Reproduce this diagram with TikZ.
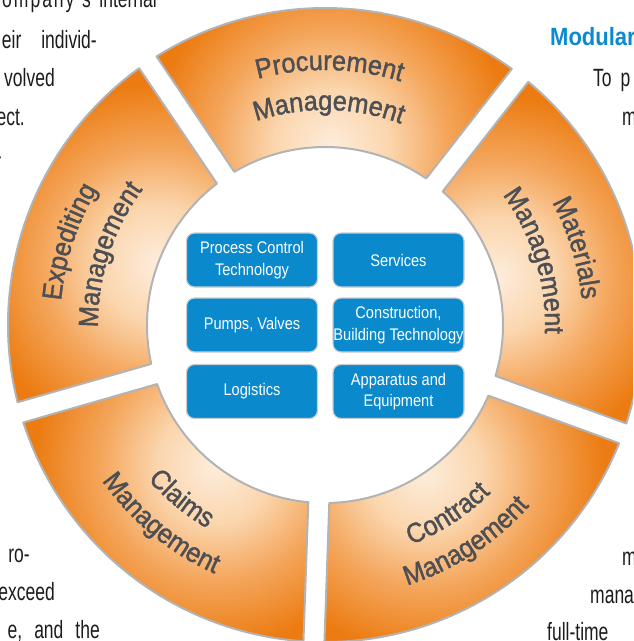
\documentclass[tikz,border=0pt]{standalone}
\usepackage{fontspec}
\setmainfont{Liberation Sans}
\newfontfamily\bodyfont[FakeStretch=0.7]{Liberation Sans}
\newfontfamily\headfont[FakeStretch=0.88]{Liberation Sans}
\newfontfamily\boxfont[FakeStretch=0.87]{Liberation Sans}
\newfontfamily\segfont[FakeStretch=0.92,FakeBold=1.4]{Liberation Sans}
\usetikzlibrary{decorations.text}

\definecolor{segin}{HTML}{FDEDDC}
\definecolor{segmida}{HTML}{FBD6AE}
\definecolor{segmidb}{HTML}{F4A65C}
\definecolor{segout}{HTML}{EC7C12}
\definecolor{segline}{HTML}{B3B3B3}
\definecolor{boxblue}{HTML}{0A8ACC}
\definecolor{boxline}{HTML}{C9CDD2}
\definecolor{segtext}{HTML}{4D4F53}
\definecolor{bodytext}{HTML}{1E1B1C}
\definecolor{headblue}{HTML}{0B8AD0}

% gradient reaches full orange at half the circle radius
\pgfdeclareradialshading{segshade}{\pgfpoint{0bp}{0bp}}{color(0bp)=(segin); color(4bp)=(segmida); color(8bp)=(segmidb); color(12.5bp)=(segout); color(50bp)=(segout)}

\tikzset{
  segborder/.style={draw=segline, line width=2pt, line join=round},
  bluebox/.style={draw=boxline, line width=1.2pt, fill=boxblue, rounded corners=8pt,
    minimum width=131pt, minimum height=54pt, inner sep=0pt, align=center, text=white,
    font=\boxfont\fontsize{16.8}{21.5}\selectfont},
  bodytxt/.style={inner sep=0pt, text=bodytext, font=\bodyfont\fontsize{25}{30}\selectfont},
  headtxt/.style={inner sep=0pt, text=headblue, font=\headfont\bfseries\fontsize{25}{30}\selectfont},
}

% ring segment between two gap angles
\newcommand\ringseg[2]{%
  \pgfmathsetmacro\segsa{#1+asin(10.5/317)}%
  \pgfmathsetmacro\segea{#2-asin(10.5/317)}%
  \pgfmathsetmacro\segsb{#2-asin(10.5/178)}%
  \pgfmathsetmacro\segeb{#1+asin(10.5/178)}%
  \pgfmathsetmacro\segmid{(#1+#2)/2}%
  \begin{scope}
    \clip (\segsa:317) arc[start angle=\segsa, end angle=\segea, radius=317]
      -- (\segsb:178) arc[start angle=\segsb, end angle=\segeb, radius=178] -- cycle;
    \shade[shading=segshade] (\segmid:178) circle (360);
  \end{scope}
  \draw[segborder] (\segsa:317) arc[start angle=\segsa, end angle=\segea, radius=317]
      -- (\segsb:178) arc[start angle=\segsb, end angle=\segeb, radius=178] -- cycle;
}

% label along a clockwise arc (tops outward)
\newcommand\cwlabel[3]{%
  \pgfmathsetmacro\laba{#1+45}\pgfmathsetmacro\labb{#1-45}%
  \path[decorate, decoration={text along path, text align=center, text color=segtext,
      text={|\segfont\fontsize{27.5}{27.5}\selectfont|#3}}]
    (\laba:#2) arc[start angle=\laba, end angle=\labb, radius=#2];
}
% label along a counter-clockwise arc (tops inward)
\newcommand\ccwlabel[3]{%
  \pgfmathsetmacro\laba{#1-45}\pgfmathsetmacro\labb{#1+45}%
  \path[decorate, decoration={text along path, text align=center, text color=segtext,
      text={|\segfont\fontsize{27.5}{27.5}\selectfont|#3}}]
    (\laba:#2) arc[start angle=\laba, end angle=\labb, radius=#2];
}

\begin{document}
\begin{tikzpicture}[x=1pt, y=1pt]
\useasboundingbox (0,0) rectangle (633,-641);
\clip (0,0) rectangle (633,-641);

% surrounding body text
\node[bodytxt, anchor=base east] (l1a) at (91,-7) {\addfontfeature{LetterSpace=8}company’s};
\node[bodytxt, anchor=base east] (l1b) at (157,-7) {internal};
\node[bodytxt, anchor=base east] (l2) at (97,-48) {eir\hspace{20pt}individ-};
\node[bodytxt, anchor=base east] (l3) at (55,-86) {volved};
\node[bodytxt, anchor=base east] (l4) at (25,-125) {ect.};
\node[bodytxt, anchor=base east] (l5) at (2,-164) {-};
\node[bodytxt, anchor=base east] (l6) at (30,-562) {ro-};
\node[bodytxt, anchor=base east] (l7) at (55,-600) {exceed};
\node[bodytxt, anchor=base east] (l8) at (100,-638) {e,\hspace{12pt}and\hspace{12pt}the};
\node[headtxt, anchor=base west] (r1) at (550,-45) {Modular};
\node[bodytxt, anchor=base west] (r2) at (593,-86) {To\hspace{9pt}p};
\node[bodytxt, anchor=base west] (r3) at (622,-125) {m};
\node[bodytxt, anchor=base west] (r4) at (622,-565) {m};
\node[bodytxt, anchor=base west] (r5) at (590,-603) {mana};
\node[bodytxt, anchor=base west] (r6) at (547,-640) {full-time};

\begin{scope}[shift={(325,-325)}]
  \ringseg{52}{124}
  \ringseg{124}{196}
  \ringseg{196}{268}
  \ringseg{268}{340}
  \ringseg{340}{412}

  \cwlabel{89}{255}{Procurement}
  \cwlabel{89}{215}{Management}
  \cwlabel{162}{265}{Expediting}
  \cwlabel{162}{227}{Management}
  \cwlabel{17}{258}{Materials}
  \cwlabel{17}{220}{Management}
  \ccwlabel{230.5}{235}{Claims}
  \ccwlabel{230.5}{272}{Management}
  \ccwlabel{303}{236}{Contract}
  \ccwlabel{303}{273}{Management}
\end{scope}

% inner boxes
\node[bluebox] (pct) at (252,-260) {Process Control\\Technology};
\node[bluebox] (srv) at (398.5,-260) {Services};
\node[bluebox] (pmp) at (252,-325) {Pumps, Valves};
\node[bluebox] (cbt) at (398.5,-325) {Construction,\\Building Technology};
\node[bluebox] (log) at (252,-391.5) {Logistics};
\node[bluebox] (app) at (398.5,-391.5) {Apparatus and\\Equipment};
\end{tikzpicture}
\end{document}
